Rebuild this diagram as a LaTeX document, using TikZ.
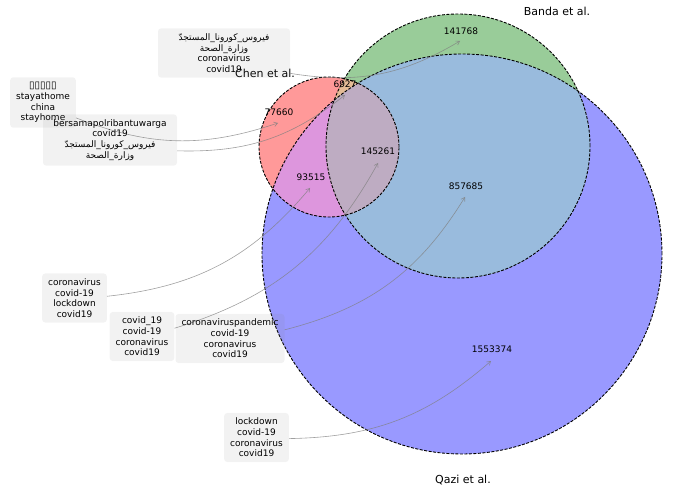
\documentclass[tikz,border=0pt]{standalone}
\usepackage{fontspec}
\setmainfont{DejaVu Sans}
\newfontfamily\arabicfont[Script=Arabic]{DejaVu Sans}
\TeXXeTstate=1
\usetikzlibrary{arrows.meta}
\definecolor{cR}{RGB}{255,153,153}
\definecolor{cG}{RGB}{153,204,153}
\definecolor{cB}{RGB}{153,153,255}
\definecolor{cRG}{RGB}{228,188,150}
\definecolor{cRB}{RGB}{221,150,221}
\definecolor{cGB}{RGB}{153,187,221}
\definecolor{cRGB}{RGB}{190,172,194}
\newcommand{\arabtxt}[1]{{\arabicfont\beginR #1\endR}}
\tikzset{
  tagbox/.style={fill=gray, fill opacity=0.1, text opacity=1, rounded corners=3pt,
    inner xsep=6pt, inner ysep=5pt, align=center, font=\fontsize{9}{10.7}\selectfont},
  num/.style={font=\fontsize{9}{10.7}\selectfont, inner sep=0pt},
  setlabel/.style={font=\fontsize{11}{13}\selectfont, inner sep=0pt},
  venn/.style={draw=black, line width=0.9pt, dash pattern=on 3pt off 1.5pt},
  pointer/.style={draw=gray, draw opacity=0.75, line width=0.6pt,
    -{Straight Barb[length=3.5pt,width=4.5pt]}},
}
\begin{document}
\begin{tikzpicture}[x=1pt,y=-1pt]
\useasboundingbox (0,0) rectangle (678,489);
% regions
\fill[cB] (462,254) circle[radius=200pt];
\fill[cG] (458,146) circle[radius=132pt];
\fill[cR] (329,147) circle[radius=70pt];
\begin{scope}
  \clip (458,146) circle[radius=132pt];
  \fill[cGB] (462,254) circle[radius=200pt];
\end{scope}
\begin{scope}
  \clip (329,147) circle[radius=70pt];
  \fill[cRB] (462,254) circle[radius=200pt];
\end{scope}
\begin{scope}
  \clip (329,147) circle[radius=70pt];
  \fill[cRG] (458,146) circle[radius=132pt];
\end{scope}
\begin{scope}
  \clip (329,147) circle[radius=70pt];
  \clip (458,146) circle[radius=132pt];
  \fill[cRGB] (462,254) circle[radius=200pt];
\end{scope}
\draw[venn] (462,254) circle[radius=200pt];
\draw[venn] (458,146) circle[radius=132pt];
\draw[venn] (329,147) circle[radius=70pt];
% numbers
\node[num] (n6927) at (345,84) {6927};
\node[num] (n141768) at (461,31) {141768};
\node[num] (n77660) at (279,112) {77660};
\node[num] (n145261) at (378,151) {145261};
\node[num] (n93515) at (311,177) {93515};
\node[num] (n857685) at (466,186) {857685};
\node[num] (n1553374) at (492,349) {1553374};
% set labels
\node[setlabel] (lChen) at (265,73) {Chen et al.};
\node[setlabel] (lBanda) at (557,11) {Banda et al.};
\node[setlabel] (lQazi) at (463,480) {Qazi et al.};
% targets
\coordinate (tA) at (460,41);
\coordinate (tB) at (278,123);
\coordinate (tC) at (345,95);
\coordinate (tD) at (310,188);
\coordinate (tE) at (378,163);
\coordinate (tF) at (465,197);
\coordinate (tG) at (491,361);
% annotations
\node[tagbox, minimum width=132pt] (bA) at (224,53) {\arabtxt{فيروس\_كورونا\_المستجدّ}\\ \arabtxt{وزارة\_الصحة}\\ coronavirus\\ covid19};
\draw[pointer] (bA) to[bend right=20] (tA);
\node[tagbox] (bB) at (43,102.5) {{\fontsize{10}{10.7}\selectfont ▯▯▯▯▯}\\ stayathome\\ china\\ stayhome};
\draw[pointer] (bB) to[bend right=20] (tB);
\node[tagbox, minimum width=134pt] (bC) at (110,140) {bersamapolribantuwarga\\ covid19\\ \arabtxt{فيروس\_كورونا\_المستجدّ}\\ \arabtxt{وزارة\_الصحة}};
\draw[pointer] (bC) to[bend right=20] (tC);
\node[tagbox] (bD) at (74.5,298) {coronavirus\\ covid-19\\ lockdown\\ covid19};
\draw[pointer] (bD) to[bend right=22] (tD);
\node[tagbox] (bE) at (142,336.5) {covid\_19\\ covid-19\\ coronavirus\\ covid19};
\draw[pointer] (bE) to[bend right=22] (tE);
\node[tagbox] (bF) at (230,338.5) {coronaviruspandemic\\ covid-19\\ coronavirus\\ covid19};
\draw[pointer] (bF) to[bend right=22] (tF);
\node[tagbox] (bG) at (256.5,437.5) {lockdown\\ covid-19\\ coronavirus\\ covid19};
\draw[pointer] (bG) to[bend right=20] (tG);
\end{tikzpicture}
\end{document}
